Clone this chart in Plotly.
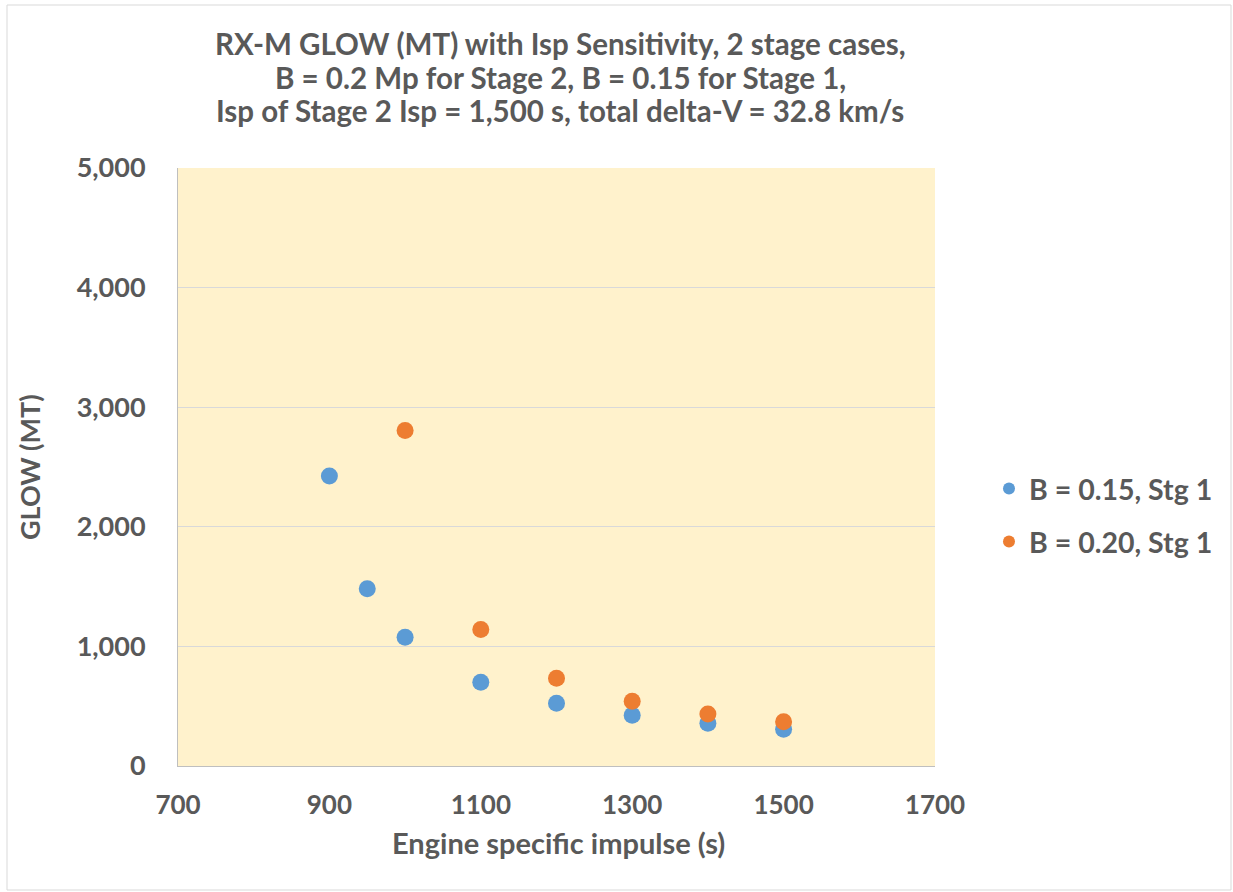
import plotly.graph_objects as go

isp_b015 = [900, 950, 1000, 1100, 1200, 1300, 1400, 1500]
glow_b015 = [2425, 1482, 1077, 700, 525, 425, 358, 308]
isp_b020 = [1000, 1100, 1200, 1300, 1400, 1500]
glow_b020 = [2806, 1142, 733, 542, 435, 370]

series_names = ["B = 0.15, Stg 1", "B = 0.20, Stg 1"]
colors = ["#5B9BD5", "#ED7D31"]
x_ticks = [700, 900, 1100, 1300, 1500, 1700]
y_ticks = [0, 1000, 2000, 3000, 4000, 5000]
title_lines = [
    "RX-M GLOW (MT) with Isp Sensitivity, 2 stage cases,",
    "B = 0.2 Mp for Stage 2, B = 0.15 for Stage 1,",
    "Isp of Stage 2 Isp = 1,500 s, total delta-V = 32.8 km/s",
]
x_title = "Engine specific impulse (s)"
y_title = "GLOW (MT)"

FONT = "Lato"
TXT = "#595959"
W, H = 1233, 892
L, R, T, B = 178, 935, 168, 766
PW, PH = R - L, B - T


def px_x(px):
    return (px - L) / PW


def px_y(py):
    return (B - py) / PH


fig = go.Figure()
fig.add_trace(go.Scatter(x=isp_b015, y=glow_b015, mode="markers", name=series_names[0],
                         legendgroup="a", marker=dict(size=17, color=colors[0])))
fig.add_trace(go.Scatter(x=isp_b020, y=glow_b020, mode="markers", name=series_names[1],
                         legendgroup="b", marker=dict(size=17, color=colors[1])))

fig.update_layout(
    width=W, height=H,
    margin=dict(l=L, r=W - R, t=T, b=H - B, pad=0),
    paper_bgcolor="white",
    plot_bgcolor="#FFF2CC",
    font=dict(family=FONT, color=TXT, size=27, weight="bold"),
    xaxis=dict(
        range=[700, 1700], tickvals=x_ticks, ticktext=[str(v) for v in x_ticks],
        showgrid=False, zeroline=False,
        showline=True, linecolor="#BFBFBF", linewidth=1,
        ticks="outside", ticklen=16, tickcolor="rgba(0,0,0,0)",
        tickfont=dict(family=FONT, size=26, color=TXT, weight="bold"),
    ),
    yaxis=dict(
        range=[0, 5000], tickvals=y_ticks, tickformat=",d",
        showgrid=True, gridcolor="#D9D9D9", gridwidth=1,
        zeroline=False,
        showline=True, linecolor="#BFBFBF", linewidth=1,
        ticks="outside", ticklen=26, tickcolor="rgba(0,0,0,0)",
        tickfont=dict(family=FONT, size=27, color=TXT, weight="bold"),
    ),
    legend=dict(
        x=px_x(989), xanchor="left",
        y=px_y(515.5), yanchor="middle",
        font=dict(family=FONT, size=28.5, color=TXT, weight="bold"),
        itemsizing="constant",
        traceorder="grouped",
        tracegroupgap=13,
        bgcolor="rgba(0,0,0,0)",
    ),
    showlegend=True,
)

# title lines
for line, cy in zip(title_lines, [44, 77, 110]):
    fig.add_annotation(text=line, xref="paper", yref="paper",
                       x=px_x(560), y=px_y(cy), xanchor="center", yanchor="middle",
                       showarrow=False,
                       font=dict(family=FONT, size=29.5, color=TXT, weight="bold"))

# axis titles
fig.add_annotation(text=x_title, xref="paper", yref="paper",
                   x=px_x(558), y=px_y(842), xanchor="center", yanchor="middle",
                   showarrow=False, font=dict(family=FONT, size=29, color=TXT, weight="bold"))
fig.add_annotation(text=y_title, xref="paper", yref="paper",
                   x=px_x(29), y=px_y(467), xanchor="center", yanchor="middle", textangle=-90,
                   showarrow=False, font=dict(family=FONT, size=27, color=TXT, weight="bold"))

# outer chart border
fig.add_shape(type="rect", xref="paper", yref="paper",
              x0=px_x(7), x1=px_x(1231), y0=px_y(890), y1=px_y(5),
              line=dict(color="#D9D9D9", width=1), fillcolor="rgba(0,0,0,0)", layer="below")

fig.write_html("out.html", config={"displayModeBar": False},
               post_script="document.body.style.margin='0';")
